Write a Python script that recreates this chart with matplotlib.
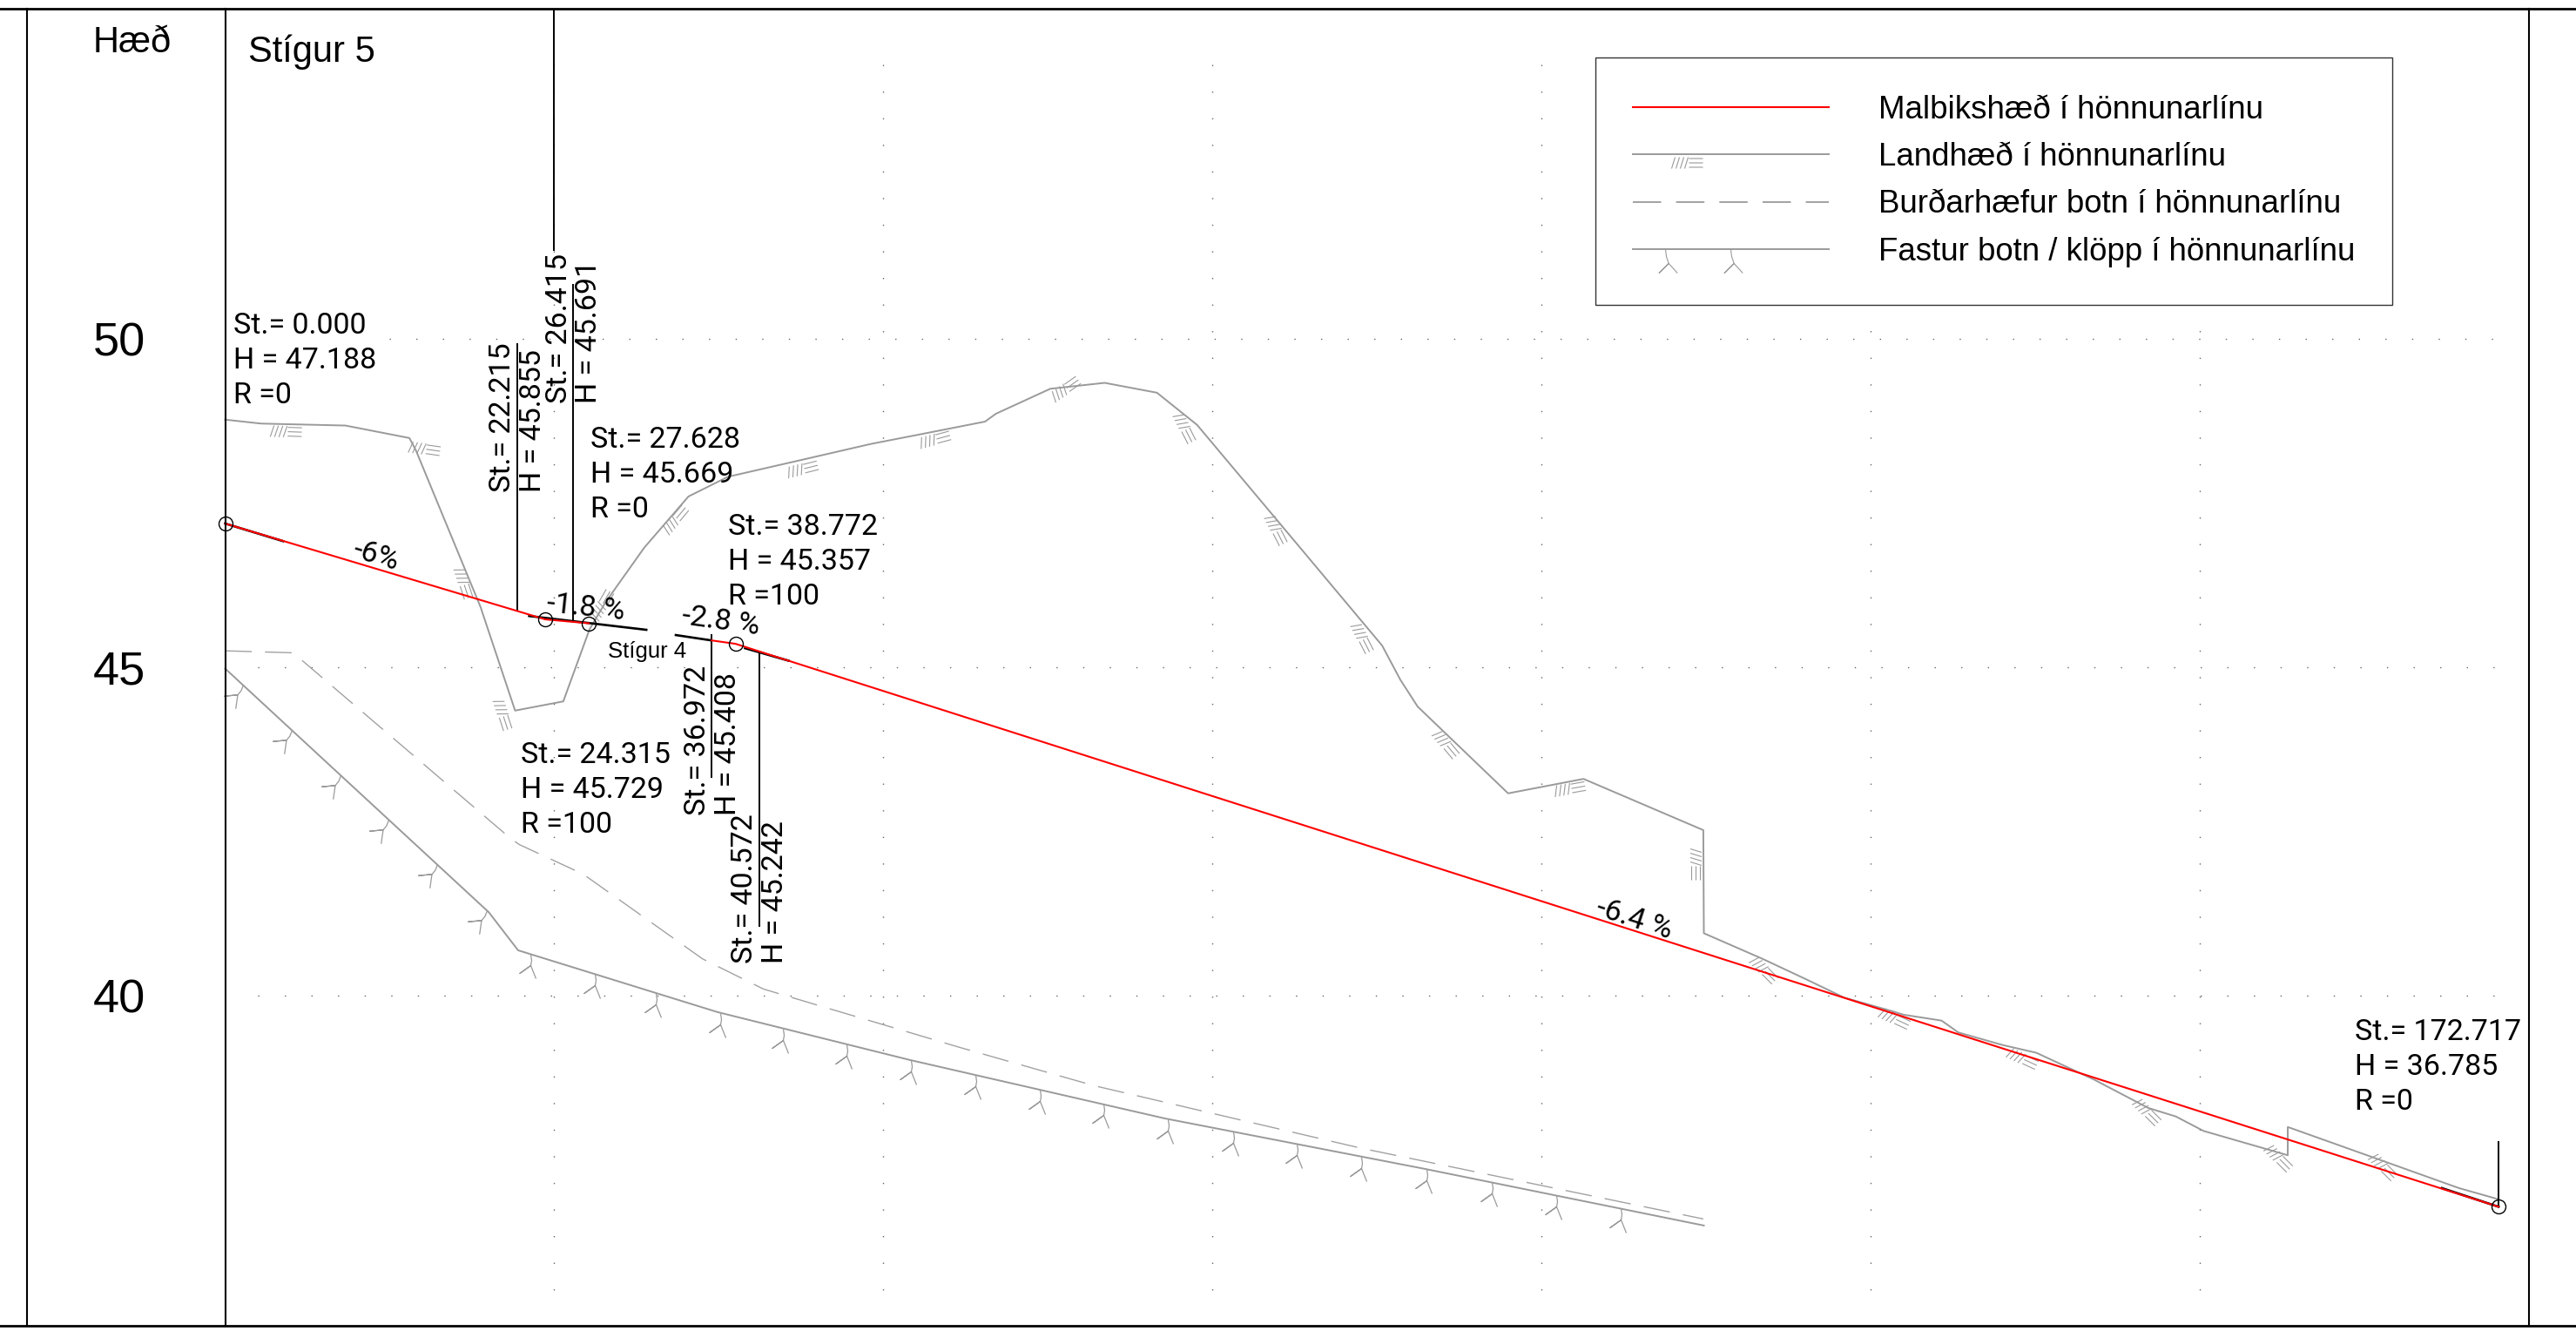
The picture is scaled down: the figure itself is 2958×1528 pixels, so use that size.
import matplotlib
matplotlib.use("Agg")
import matplotlib.pyplot as plt
import numpy as np
from matplotlib.lines import Line2D
from matplotlib.path import Path
from matplotlib.markers import MarkerStyle
from matplotlib.transforms import Affine2D

# ---------- data (station St in m, height H in m) ----------
road_st = [0, 22.215, 24.315, 26.415, 27.628, np.nan, 36.972, 38.772, 40.572, 172.717]
road_h = [47.188, 45.855, 45.729, 45.691, 45.669, np.nan, 45.408, 45.357, 45.242, 36.785]

tangent_st = [0, 4.4, np.nan, 23.1, 32.0, np.nan, 34.24, 36.9, np.nan, 39.5, 42.8, np.nan, 168.4, 172.717]
tangent_h = [47.188, 46.92, np.nan, 45.78, 45.57, np.nan, 45.49, 45.41, np.nan, 45.29, 45.1, np.nan, 37.07, 36.785]

node_st = [0, 24.315, 27.628, 38.772, 172.717]
node_h = [47.188, 45.729, 45.669, 45.357, 36.785]

ground_st = [0, 2.73, 9.14, 14.0, 14.5, 19.4, 22.03, 25.69, 27.69, 28.9, 31.84, 35.2, 38.2, 44.08, 49.06,
             53.16, 57.73, 58.56, 62.69, 66.82, 70.79, 73.84, 79.62, 83.76, 87.9, 89.28, 90.6, 97.47,
             103.2, 112.3, 112.34, 116.8, 120.1, 123.0, 126.7, 127.5, 130.4, 131.67, 135.0, 137.6,
             142.0, 146.1, 148.2, 150.3, 156.7, 156.7, 163.0, 169.7, 172.7]
ground_h = [48.77, 48.71, 48.68, 48.49, 48.30, 45.92, 44.34, 44.48, 45.58, 45.99, 46.82, 47.6, 47.9, 48.17, 48.4,
            48.56, 48.74, 48.86, 49.24, 49.33, 49.18, 48.69, 47.31, 46.32, 45.33, 44.81, 44.4, 43.08,
            43.3, 42.52, 40.95, 40.56, 40.25, 39.97, 39.76, 39.71, 39.62, 39.44, 39.25, 39.13,
            38.72, 38.29, 38.16, 37.94, 37.57, 38.0, 37.55, 37.07, 36.9]

bearing_st = [0, 5.17, 21.65, 22.35, 27.2, 36.27, 40.9, 55.67, 66.0, 86.24, 112.3]
bearing_h = [45.25, 45.22, 42.4, 42.3, 41.85, 40.56, 40.1, 39.22, 38.63, 37.68, 36.6]

rock_st = [0, 20.03, 22.26, 37.4, 52.03, 71.4, 91.2, 112.34]
rock_h = [44.98, 41.27, 40.69, 39.75, 39.02, 38.13, 37.36, 36.5]

rock_tick_st = [1.35, 5.05, 8.75, 12.4, 16.1, 19.9, 23.2, 28.1, 32.7, 37.6, 42.4, 47.2, 52.1, 57.0, 61.9,
                66.7, 71.6, 76.6, 81.4, 86.3, 91.3, 96.2, 101.1, 106.0]
rock_tick_h = [44.73, 44.04, 43.36, 42.68, 42.0, 41.3, 40.63, 40.33, 40.04, 39.74, 39.5, 39.26, 39.02, 38.79,
               38.57, 38.35, 38.12, 37.93, 37.74, 37.55, 37.36, 37.16, 36.96, 36.76]
rock_tick_angle = [-30, -30, -30, -30, -30, -30] + [0] * 18

hatch_st = [4.62, 15.1, 18.1, 21.1, 28.6, 34.2, 43.8, 53.9, 63.8, 72.9, 79.8, 86.4, 92.7, 102.1, 111.7, 116.9,
            126.8, 136.5, 146.0, 156.0, 163.9]
hatch_h = [48.6, 48.33, 46.28, 44.28, 45.95, 47.25, 48.03, 48.48, 49.25, 48.65, 47.1, 45.45, 43.83, 43.15, 42.0,
           40.4, 39.65, 39.05, 38.23, 37.53, 37.4]
hatch_angle = [-2, -8, -72, -72, 60, 50, 14, 15, 35, -63, -63, -63, -50, 10, -90, -45, -25, -25, -45, -45, -45]

y_ticks = [50, 45, 40]
grid_st = [25, 50, 75, 100, 125, 150]
legend_labels = ["Malbikshæð í hönnunarlínu", "Landhæð í hönnunarlínu",
                 "Burðarhæfur botn í hönnunarlínu", "Fastur botn / klöpp í hönnunarlínu"]

# horizontal station notes: text lines, left px, first line centre px
notes = [
    (["St.= 0.000", "H = 47.188", "R =0"], 268, 370.6),
    (["St.= 27.628", "H = 45.669", "R =0"], 678, 501),
    (["St.= 38.772", "H = 45.357", "R =100"], 835.5, 601),
    (["St.= 24.315", "H = 45.729", "R =100"], 598.4, 863),
    (["St.= 172.717", "H = 36.785", "R =0"], 2704.5, 1181),
]
# vertical station notes: text, centre x px, bottom px
vnotes = [
    ("St.= 22.215", 577, 565), ("H = 45.855", 612, 565),
    ("St.= 26.415", 642, 463), ("H = 45.691", 675.6, 463),
    ("St.= 36.972", 800.6, 936), ("H = 45.408", 835.6, 936),
    ("St.= 40.572", 854.5, 1106.5), ("H = 45.242", 890, 1106.5),
]
# leaders: St, top H, bottom H
leader_st = [22.215, 26.415, 36.972, 40.572, 25.0, 172.717]
leader_top = [49.94, 50.83, 45.5, 45.25, 55.03, 37.78]
leader_bot = [45.86, 45.69, 43.32, 41.05, 51.34, 36.79]
# grade labels: text, px x, px y, rotation
grades = [("-6%", 432, 638, -17), ("-1.8 %", 673, 698, -6), ("-2.8 %", 828, 713, -8), ("-6.4 %", 1877, 1055, -18)]

# ---------- figure ----------
W, H_PX = 2958, 1528
plt.rcParams["font.family"] = ["Liberation Sans", "DejaVu Sans"]
fig = plt.figure(figsize=(W / 100, H_PX / 100), dpi=100)
ax = fig.add_axes([0, 0, 1, 1])
PX_M, PY_M, X0, Y50 = 15.115, 75.4, 258.5, 389.0
ax.set_xlim(-X0 / PX_M, (W - X0) / PX_M)
ax.set_ylim(50 - (H_PX - Y50) / PY_M, 50 + Y50 / PY_M)
ax.axis("off")
PX = Affine2D().scale(1, -1).translate(0, H_PX)

GRAY = "#9a9a9a"
NOTE = dict(family=["Roboto", "Liberation Sans", "DejaVu Sans"], color="black")
NOTE_SIZE = 24.5

# dotted grid
for s in grid_st:
    ax.plot([s, s], [35.52, 54.43], color="#666666", lw=1.0, ls=(0, (1, 21)), zorder=1)
ax.plot([12.5, 172.7], [50, 50], color="#666666", lw=1.0, ls=(0, (1, 21)), zorder=1)
for t in y_ticks[1:]:
    ax.plot([2.5, 172.7], [t, t], color="#666666", lw=1.0, ls=(0, (1, 21)), zorder=1)

# frame
def frame(xs, ys, lw):
    ax.add_line(Line2D(xs, ys, transform=PX, color="black", lw=lw, zorder=5, clip_on=False))
frame([0, W], [10, 10], 2.0)
frame([0, W], [1522, 1522], 2.0)
frame([31, 31], [10, 1522], 1.5)
frame([X0, X0], [10, 1522], 1.5)
frame([2904, 2904], [10, 1522], 1.5)

# lines
ax.plot(ground_st, ground_h, color=GRAY, lw=1.4, zorder=2)
ax.plot(bearing_st, bearing_h, color="#a2a2a2", lw=1.0, ls=(0, (22, 11)), zorder=2)
ax.plot(rock_st, rock_h, color=GRAY, lw=1.4, zorder=2)
ax.plot(tangent_st, tangent_h, color="black", lw=1.9, zorder=3)
ax.plot(road_st, road_h, color="#ff0000", lw=1.5, zorder=4)
ax.vlines(leader_st, leader_bot, leader_top, color="black", lw=1.4, zorder=3)
ax.plot(node_st, node_h, ls="none", marker="o", ms=11.5, mfc="none", mec="black", mew=1.0, zorder=5)

# symbols
def hatch_path(dx=0.0, dy=0.0):
    v, c = [], []
    for x in (-18, -13, -8, -3):
        v += [(x + dx, -6.5 + dy), (x + 4 + dx, 6.5 + dy)]
        c += [Path.MOVETO, Path.LINETO]
    for y in (-5, 0, 5):
        v += [(2 + dx, y + dy), (18 + dx, y + dy)]
        c += [Path.MOVETO, Path.LINETO]
    return Path(v, c)

ROCK_GLYPH = [(0, 0), (1, -7), (0, -13), (-12.6, -22), (0, -13), (6, -28)]
LEGEND_GLYPH = [(0, 0), (1, -8), (3.7, -16), (-7.3, -27), (3.7, -16), (13.7, -27)]

def rock_path(glyph, offsets=(0.0,)):
    v, c = [], []
    for dx in offsets:
        v += [(x + dx, y) for x, y in glyph]
        c += [Path.MOVETO] + [Path.LINETO] * (len(glyph) - 1)
    return Path(v, c)

def px_size(path):
    return 2 * np.abs(path.vertices).max() * 0.72

hp = hatch_path()
for s, h, a in zip(hatch_st, hatch_h, hatch_angle):
    ax.plot([s], [h], ls="none", marker=MarkerStyle(hp, transform=Affine2D().rotate_deg(a)),
            ms=px_size(hp), mfc="none", mec=GRAY, mew=0.8, zorder=2)
rp = rock_path(ROCK_GLYPH)
for s, h, a in zip(rock_tick_st, rock_tick_h, rock_tick_angle):
    ax.plot([s], [h], ls="none", marker=MarkerStyle(rp, transform=Affine2D().rotate_deg(a)),
            ms=px_size(rp), mfc="none", mec=GRAY, mew=0.9, zorder=2)

# axis labels
for t in y_ticks:
    ax.text(107, Y50 + (50 - t) * PY_M, str(t), transform=PX, fontsize=39, ha="left", va="center_baseline")
ax.text(107, 45, "Hæð", transform=PX, fontsize=30, ha="left", va="center_baseline")
ax.text(285, 55, "Stígur 5", transform=PX, fontsize=30, ha="left", va="center_baseline")
ax.text(698, 745, "Stígur 4", transform=PX, fontsize=18.5, ha="left", va="center_baseline")

# notes
for lines, x, y in notes:
    for i, l in enumerate(lines):
        ax.text(x, y + i * 40, l, transform=PX, fontsize=NOTE_SIZE, ha="left", va="center_baseline", **NOTE)
for l, x, y in vnotes:
    ax.text(x, y, l, transform=PX, fontsize=NOTE_SIZE, rotation=90, ha="center", va="bottom", **NOTE)
for l, x, y, r in grades:
    ax.text(x, y, l, transform=PX, fontsize=NOTE_SIZE, rotation=r, ha="center", va="center",
            rotation_mode="anchor", **NOTE)

# legend
lh_road = Line2D([], [], color="#ff0000", lw=1.5)
hl = hatch_path(-50, -9.5)
lh_ground = Line2D([], [], color=GRAY, lw=1.4, marker=hl, ms=px_size(hl), mfc="none", mec=GRAY, mew=0.8)
lh_bearing = Line2D([], [], color=GRAY, lw=1.3, ls=(0, (18, 9.5)))
rl = rock_path(LEGEND_GLYPH, offsets=(-75.0, 0.0))
lh_rock = Line2D([], [], color=GRAY, lw=1.4, marker=rl, ms=px_size(rl), mfc="none", mec=GRAY, mew=0.8)
leg = ax.legend(
    [lh_road, lh_ground, lh_bearing, lh_rock], legend_labels,
    loc="upper left", bbox_to_anchor=(1831.6, 65.7), bbox_transform=PX,
    fontsize=26.4, frameon=True, fancybox=False, framealpha=1, edgecolor="#333333", numpoints=1,
    handlelength=6.14, handletextpad=1.56, labelspacing=0.53, borderpad=1.17, borderaxespad=0,
)
leg.get_frame().set_linewidth(1.0)
leg.set_zorder(4.5)

fig.savefig("out.png", dpi=100, facecolor="white")
